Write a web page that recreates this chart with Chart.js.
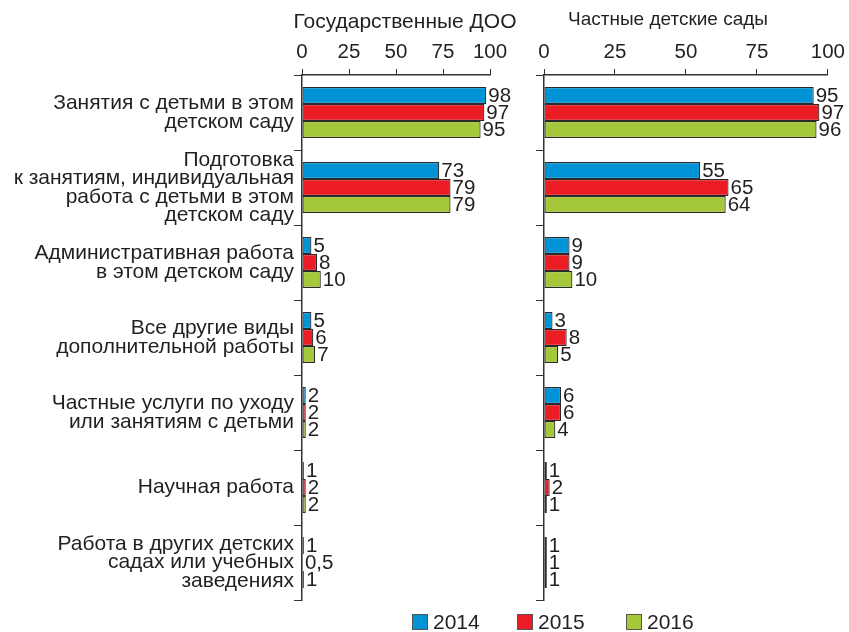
<!DOCTYPE html>
<html>
<head>
<meta charset="utf-8">
<script src="https://cdn.jsdelivr.net/npm/chart.js@4"></script>
<style>
  body { margin: 0; background: #fff; width: 849px; height: 632px; position: relative; overflow: hidden; }
  canvas { position: absolute; top: 0; }
  #left { left: 0; }
  #right { left: 530px; }
  #legend { position: absolute; top: 610px; left: 412px; font: 21px "Liberation Sans", Arial, sans-serif; color: #231f20; }
  #legend span.item { position: absolute; white-space: nowrap; top: 0; }
  #legend i { display: inline-block; width: 14px; height: 14px; border: 1px solid #555; margin-right: 5px; vertical-align: -1px; }
</style>
</head>
<body>
<canvas id="left" width="530" height="632"></canvas>
<canvas id="right" width="319" height="632"></canvas>
<div id="legend"></div>
<script>
var categories = [
    ["Занятия с детьми в этом", "детском саду"],
    ["Подготовка", "к занятиям, индивидуальная", "работа с детьми в этом", "детском саду"],
    ["Административная работа", "в этом детском саду"],
    ["Все другие виды", "дополнительной работы"],
    ["Частные услуги по уходу", "или занятиям с детьми"],
    ["Научная работа"],
    ["Работа в других детских", "садах или учебных", "заведениях"]
];
var years = ["2014", "2015", "2016"];
var colors = ["#0093d6", "#ec1c24", "#a5c83b"];

var gov2014 = [98, 73, 5, 5, 2, 1, 1];
var gov2015 = [97, 79, 8, 6, 2, 2, 0.5];
var gov2016 = [95, 79, 10, 7, 2, 2, 1];

var priv2014 = [95, 55, 9, 3, 6, 1, 1];
var priv2015 = [97, 65, 9, 8, 6, 2, 1];
var priv2016 = [96, 64, 10, 5, 4, 1, 1];

var xTicks = [0, 25, 50, 75, 100];

var FONT = '"Liberation Sans", Arial, sans-serif';
var INK = "#231f20";

// numbers next to the bars
var valueLabels = {
    id: "valueLabels",
    afterDatasetsDraw: function (chart) {
        var ctx = chart.ctx;
        ctx.save();
        ctx.font = "20.5px " + FONT;
        ctx.fillStyle = INK;
        ctx.textBaseline = "middle";
        chart.data.datasets.forEach(function (ds, i) {
            chart.getDatasetMeta(i).data.forEach(function (bar, j) {
                ctx.fillText(String(ds.data[j]).replace(".", ","), bar.x + 2, bar.y + 1);
            });
        });
        ctx.restore();
    }
};

// panel heading
var panelTitle = {
    id: "panelTitle",
    afterDraw: function (chart, args, opts) {
        var ctx = chart.ctx;
        ctx.save();
        ctx.font = opts.size + "px " + FONT;
        ctx.fillStyle = INK;
        ctx.textAlign = "center";
        ctx.textBaseline = "middle";
        ctx.fillText(opts.text, opts.x, opts.y);
        ctx.restore();
    }
};

function makeDatasets(a, b, c) {
    return [a, b, c].map(function (d, i) {
        return {
            label: years[i],
            data: d,
            backgroundColor: colors[i],
            borderColor: "#2a2a2a",
            borderWidth: 1.2,
            borderSkipped: false,
            barPercentage: 1,
            categoryPercentage: 0.68
        };
    });
}

function makeChart(id, data, showLabels, yWidth, padRight, title) {
    return new Chart(document.getElementById(id).getContext("2d"), {
        type: "bar",
        data: {
            labels: categories,
            datasets: data
        },
        options: {
            indexAxis: "y",
            responsive: false,
            animation: false,
            layout: { padding: { left: 0, right: padRight, top: 0, bottom: 32 } },
            plugins: {
                legend: { display: false },
                tooltip: { enabled: false },
                panelTitle: title
            },
            scales: {
                x: {
                    position: "top",
                    min: 0,
                    max: 100,
                    afterBuildTicks: function (s) {
                        s.ticks = xTicks.map(function (v) { return { value: v }; });
                    },
                    afterFit: function (s) { s.height = 75; },
                    grid: {
                        drawOnChartArea: false,
                        tickLength: 6,
                        color: "#333"
                    },
                    border: { color: "#333", width: 1.5 },
                    ticks: {
                        padding: 4,
                        maxRotation: 0,
                        font: { size: 20.5, family: FONT },
                        color: INK
                    }
                },
                y: {
                    afterFit: function (s) { s.width = yWidth; },
                    grid: {
                        drawOnChartArea: false,
                        offset: true,
                        tickLength: 8,
                        color: "#333"
                    },
                    border: { color: "#333", width: 1.5 },
                    ticks: {
                        display: showLabels,
                        autoSkip: false,
                        padding: 0,
                        font: { size: 21, family: FONT, lineHeight: 0.88 },
                        color: INK
                    }
                }
            }
        },
        plugins: [valueLabels, panelTitle]
    });
}

makeChart("left", makeDatasets(gov2014, gov2015, gov2016), true, 302, 40,
    { text: "Государственные ДОО", x: 405, y: 22, size: 21 });
makeChart("right", makeDatasets(priv2014, priv2015, priv2016), false, 14, 20,
    { text: "Частные детские сады", x: 138, y: 20, size: 19 });

// legend below both panels
var legend = document.getElementById("legend");
var legendX = [0, 105, 214];
years.forEach(function (y, i) {
    var item = document.createElement("span");
    item.className = "item";
    item.style.left = legendX[i] + "px";
    item.innerHTML = '<i style="background:' + colors[i] + '"></i>' + y;
    legend.appendChild(item);
});
</script>
</body>
</html>
